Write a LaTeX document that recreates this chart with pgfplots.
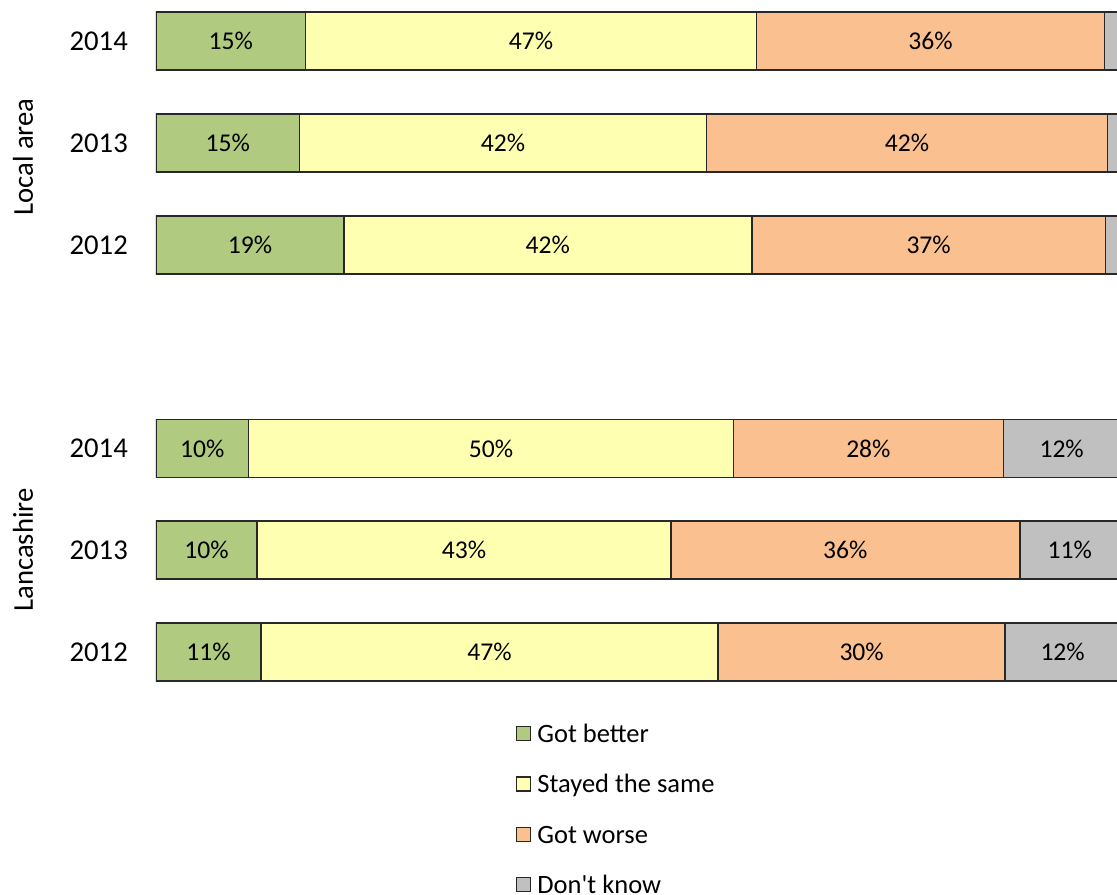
\documentclass[border=0pt]{standalone}
\usepackage{fontspec}
\setmainfont{Carlito}[Ligatures=TeXOff]
\usepackage{pgfplots}
\usepackage{pgfplotstable}
\pgfplotsset{compat=1.18}
\definecolor{cbetter}{RGB}{176,203,127}
\definecolor{csame}{RGB}{255,255,178}
\definecolor{cworse}{RGB}{250,192,144}
\definecolor{cdk}{RGB}{192,192,192}
\definecolor{cedge}{RGB}{40,40,40}

\pgfplotstableread{
y better lb same ls worse lw dk ld z
0 10.9 11\% 47.4 47\% 29.8 30\% 11.9 12\% 0
1 10.5 10\% 42.9 43\% 36.2 36\% 10.4 11\% 0
2 9.6 10\% 50.3 50\% 28.0 28\% 12.1 12\% 0
4 19.5 19\% 42.3 42\% 36.7 37\% 1.5 {\relax} 0
5 14.9 15\% 42.2 42\% 41.6 42\% 1.3 {\relax} 0
6 15.5 15\% 46.8 47\% 36.1 36\% 1.6 {\relax} 0
}\data

\begin{document}
\begin{tikzpicture}
\begin{axis}[
  name=ax,
  scale only axis, width=965.9pt, height=703pt,
  xbar stacked, bar width=0.57,
  xmin=0, xmax=100.2, ymin=-0.5, ymax=6.405,
  xtick=\empty,
  ytick={0,1,2,4,5,6},
  yticklabels={2012,2013,2014,2012,2013,2014},
  axis line style={draw=none},
  major tick length=0pt,
  yticklabel style={font=\fontsize{28.7}{34}\selectfont, inner sep=0pt, xshift=-28pt},
  point meta=explicit symbolic,
  nodes near coords,
  every node near coord/.append style={font=\fontsize{25.6}{30}\selectfont, text=black, anchor=center},
  every axis plot/.append style={draw=cedge, line width=1.6pt},
  legend style={at={(0.3727,-0.028)}, anchor=north west, draw=none, fill=none,
    inner sep=0pt, outer sep=0pt, row sep=23.3pt, column sep=6pt,
    font=\fontsize{26.5}{32}\selectfont,
    nodes={inner sep=0pt, text height=20pt, text depth=7pt}},
  legend cell align=left,
  legend image code/.code={\draw[#1, line width=1.4pt] (0pt,-4.5pt) rectangle (14pt,9.5pt);},
]
\addplot[fill=cbetter] table[x=better, y=y, meta=lb] {\data};
\addplot[fill=csame] table[x=same, y=y, meta=ls] {\data};
\addplot[fill=cworse] table[x=worse, y=y, meta=lw] {\data};
\addplot[fill=cdk] table[x=dk, y=y, meta=ld] {\data};
\legend{Got better, Stayed the same, Got worse, Don't know}
\end{axis}
\node[rotate=90, font=\fontsize{28.7}{34}\selectfont] at ([xshift=-133pt, yshift=546pt]ax.south west) {Local area};
\node[rotate=90, font=\fontsize{28.7}{34}\selectfont] at ([xshift=-133pt, yshift=153pt]ax.south west) {Lancashire};
\pgfresetboundingbox
\path[use as bounding box] ([xshift=-156pt, yshift=-192pt]ax.south west) rectangle ([xshift=-4.9pt]ax.north east);
\end{tikzpicture}
\end{document}
